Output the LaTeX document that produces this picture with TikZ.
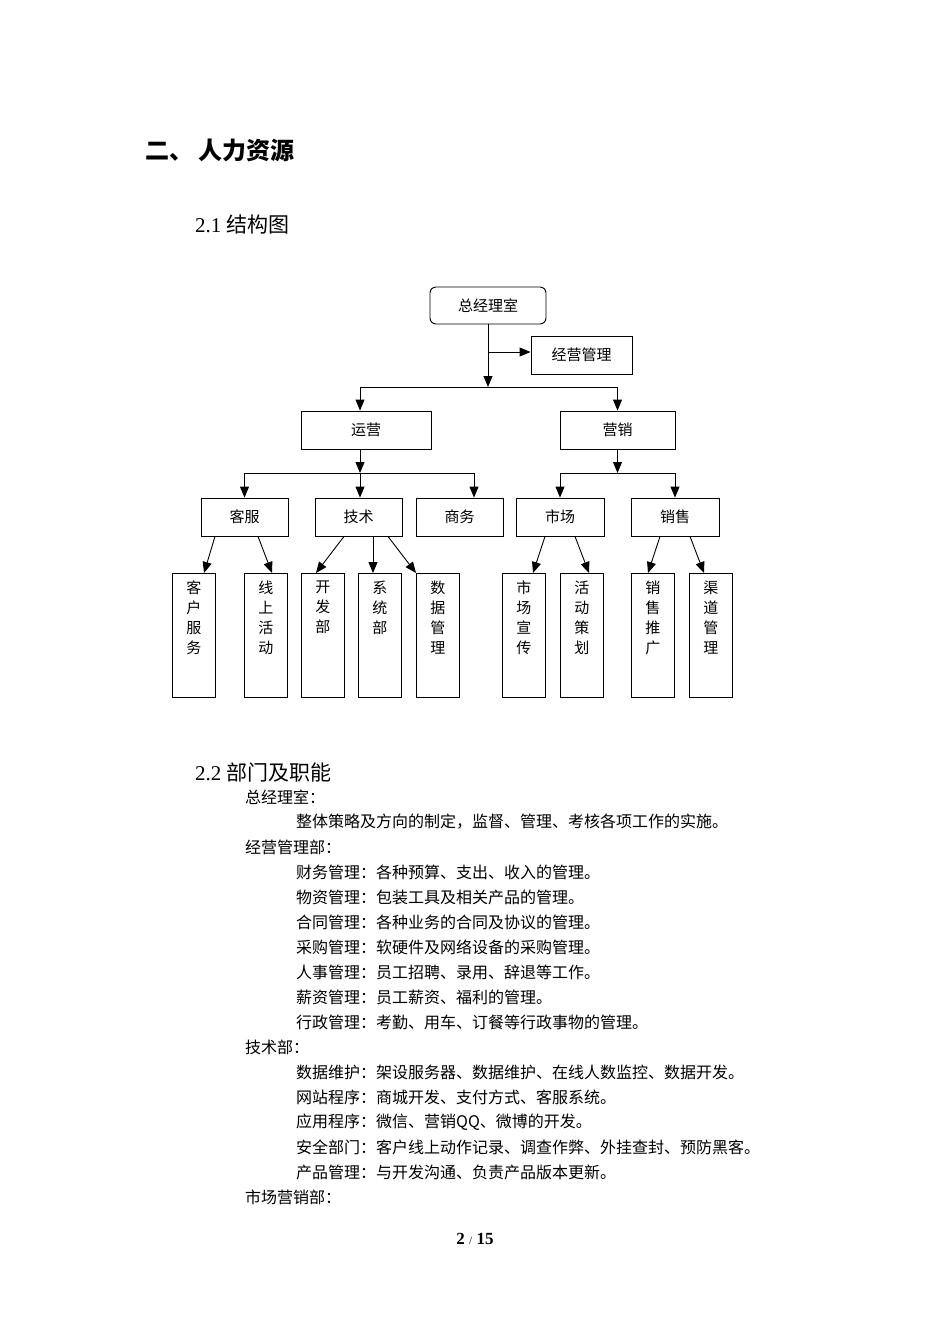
\documentclass[tikz,border=0pt]{standalone}
\usepackage{fontspec}
\setmainfont{Liberation Serif}
\newfontfamily\cjk{Noto Sans CJK SC}
\usetikzlibrary{arrows.meta}
\begin{document}
\begin{tikzpicture}[x=1pt,y=-1pt,
  bx/.style={draw,line width=0.9pt,inner sep=0pt,font=\cjk\fontsize{15}{17}\selectfont},
  vb/.style={draw,line width=0.9pt,inner sep=0pt,minimum width=43pt,minimum height=124pt,anchor=north west},
  vt/.style={anchor=north,align=center,inner sep=0pt,yshift=-8pt,font=\cjk\fontsize{15}{20}\selectfont},
  ar/.style={-{Triangle[length=11pt,width=9pt]},line width=0.9pt},
  tx/.style={anchor=west,inner sep=0pt,font=\cjk\fontsize{16}{18}\selectfont}]
\useasboundingbox (0,0) rectangle (950,1344);
\node[anchor=west,inner sep=0pt,font=\cjk\bfseries\fontsize{24}{28}\selectfont] (t1) at (145,150) {二、 人力资源};
\node[anchor=west,inner sep=0pt,font=\fontsize{21}{24}\selectfont] (t2) at (195,225) {2.1 {\cjk 结构图}};
% level 0
\node[bx,rounded corners=6pt,minimum width=116pt,minimum height=37pt] (zj) at (488,305.5) {总经理室};
\node[bx,minimum width=101pt,minimum height=38pt] (jy) at (581.5,355) {经营管理};
\coordinate (j0) at (488,352);
\coordinate (h0) at (488,387);
\draw[ar] (zj.south) -- (h0);
\draw[ar] (j0) -- (jy.west |- j0);
% level 1
\node[bx,minimum width=130pt,minimum height=38pt] (yy) at (366,430) {运营};
\node[bx,minimum width=115pt,minimum height=38pt] (yx) at (617.5,430) {营销};
\draw[ar] (h0) -| (yy.north -| 360,0) ;
\draw[ar] (h0) -| (yx.north);
% level 2
\node[bx,minimum width=87pt,minimum height=38pt] (kf) at (244.5,517) {客服};
\node[bx,minimum width=87pt,minimum height=38pt] (js) at (358.5,517) {技术};
\node[bx,minimum width=87pt,minimum height=38pt] (sw) at (459.5,517) {商务};
\node[bx,minimum width=88pt,minimum height=38pt] (sc) at (560,517) {市场};
\node[bx,minimum width=88pt,minimum height=38pt] (xs) at (675,517) {销售};
\coordinate (h1) at (360,473);
\coordinate (h2) at (617.5,473);
\draw[ar] (360,449) -- (h1);
\draw[ar] (h1) -| (kf.north);
\draw[ar] (h1) -- (js.north -| 360,0);
\draw[ar] (h1) -| (sw.north -| 474,0);
\draw[ar] (yx.south) -- (h2);
\draw[ar] (h2) -| (sc.north);
\draw[ar] (h2) -| (xs.north);
% level 3
\node[vb] (a1) at (172,573) {}; \node[vt] at (a1.north) {客\\户\\服\\务};
\node[vb] (a2) at (244,573) {}; \node[vt] at (a2.north) {线\\上\\活\\动};
\node[vb] (a3) at (301,573) {}; \node[vt] at (a3.north) {开\\发\\部};
\node[vb] (a4) at (358,573) {}; \node[vt] at (a4.north) {系\\统\\部};
\node[vb] (a5) at (416,573) {}; \node[vt] at (a5.north) {数\\据\\管\\理};
\node[vb] (a6) at (502,573) {}; \node[vt] at (a6.north) {市\\场\\宣\\传};
\node[vb] (a7) at (560,573) {}; \node[vt] at (a7.north) {活\\动\\策\\划};
\node[vb] (a8) at (631,573) {}; \node[vt] at (a8.north) {销\\售\\推\\广};
\node[vb] (a9) at (689,573) {}; \node[vt] at (a9.north) {渠\\道\\管\\理};
\draw[ar] (kf.south -| 215,0) -- (204,573);
\draw[ar] (kf.south -| 258,0) -- (272,573);
\draw[ar] (js.south -| 344,0) -- (316,573);
\draw[ar] (js.south -| 373,0) -- (373,573);
\draw[ar] (js.south -| 388,0) -- (416,573);
\draw[ar] (sc.south -| 545,0) -- (533,573);
\draw[ar] (sc.south -| 575,0) -- (589,573);
\draw[ar] (xs.south -| 660,0) -- (648,573);
\draw[ar] (xs.south -| 690,0) -- (704,573);
% text
\node[anchor=west,inner sep=0pt,font=\fontsize{21}{24}\selectfont] (t3) at (195,772) {2.2 {\cjk 部门及职能}};
\node[tx] at (245,797) {总经理室：};
\node[tx] at (296,822) {整体策略及方向的制定，监督、管理、考核各项工作的实施。};
\node[tx] at (245,847) {经营管理部：};
\node[tx] at (296,872) {财务管理：各种预算、支出、收入的管理。};
\node[tx] at (296,897) {物资管理：包装工具及相关产品的管理。};
\node[tx] at (296,922) {合同管理：各种业务的合同及协议的管理。};
\node[tx] at (296,947) {采购管理：软硬件及网络设备的采购管理。};
\node[tx] at (296,972) {人事管理：员工招聘、录用、辞退等工作。};
\node[tx] at (296,997) {薪资管理：员工薪资、福利的管理。};
\node[tx] at (296,1022) {行政管理：考勤、用车、订餐等行政事物的管理。};
\node[tx] at (245,1047) {技术部：};
\node[tx] at (296,1072) {数据维护：架设服务器、数据维护、在线人数监控、数据开发。};
\node[tx] at (296,1097) {网站程序：商城开发、支付方式、客服系统。};
\node[tx] at (296,1122) {应用程序：微信、营销QQ、微博的开发。};
\node[tx] at (296,1147) {安全部门：客户线上动作记录、调查作弊、外挂查封、预防黑客。};
\node[tx] at (296,1172) {产品管理：与开发沟通、负责产品版本更新。};
\node[tx] at (245,1197) {市场营销部：};
\node[inner sep=0pt,font=\bfseries\fontsize{17}{20}\selectfont] (pg) at (475,1239) {2 {\mdseries\fontsize{11}{13}\selectfont /} 15};
\end{tikzpicture}
\end{document}
